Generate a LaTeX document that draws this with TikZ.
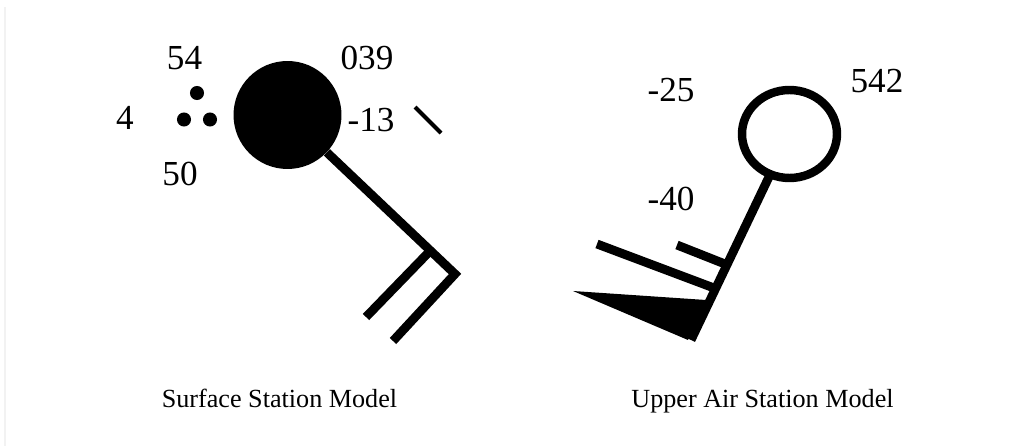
\documentclass[tikz,border=0pt]{standalone}
\usepackage{fontspec}
\setmainfont{Liberation Serif}
\usetikzlibrary{shapes.geometric}
\tikzset{
  num/.style={font=\fontsize{25}{28}\selectfont,inner sep=0pt},
  caption/.style={font=\fontsize{18.6}{21}\selectfont,inner sep=0pt,anchor=base},
  raindot/.style={circle,fill=black,inner sep=0pt,minimum size=10pt},
  barb/.style={line width=6.3pt},
}
\begin{document}
\begin{tikzpicture}[x=0.025cm,y=-0.025cm]
  \useasboundingbox (0,0) rectangle (1009,446);
  % 页边淡线
  \draw[black!5,line width=1.5pt] (5,7) -- (5,446);
  % 地面站
  \node[circle,fill=black,inner sep=0pt,minimum size=108*0.711pt] (sfcstn) at (287.5,115) {};
  \node[raindot] (rain1) at (197,93) {};
  \node[raindot] (rain2) at (184,119.5) {};
  \node[raindot] (rain3) at (210,119.5) {};
  \node[num] (dew) at (184.5,58) {54};
  \node[num] (vis) at (125,118) {4};
  \node[num] (low) at (180,174) {50};
  \node[num] (press) at (367,58) {039};
  \node[num] (tend) at (371,120) {-13};
  \coordinate (tick1) at (415,107);
  \coordinate (tick2) at (441,133);
  \draw[line width=3pt] (tick1) -- (tick2);
  % 风羽
  \coordinate (sfcend) at (455,274);
  \coordinate (sfcroot) at (430,251);
  \coordinate (sfctip1) at (366,317);
  \coordinate (sfctip2) at (393,341);
  \draw[barb,miter limit=10] (sfcstn) -- (sfcend) -- (sfctip2);
  \draw[barb] (sfcroot) -- (sfctip1);
  \node[caption] (sfccap) at (279.5,407) {Surface Station Model};
  % 高空站
  \node[ellipse,draw=black,line width=6pt,inner sep=0pt,outer sep=0pt,minimum width=95*0.711pt,minimum height=88*0.711pt] (airstn) at (789.5,134) {};
  \node[num] (temp) at (671,90) {-25};
  \node[num] (dewair) at (671,199) {-40};
  \node[num] (height) at (877,81) {542};
  \coordinate (airend) at (691,340);
  \coordinate (airroot1) at (725,264);
  \coordinate (airroot2) at (714,288);
  \coordinate (airtip1) at (677,245);
  \coordinate (airtip2) at (597,244);
  \coordinate (penn1) at (573,291);
  \coordinate (penn2) at (706,300);
  \coordinate (penn3) at (688,340);
  \draw[barb] (airstn) -- (airend);
  \draw[barb] (airroot1) -- (airtip1);
  \draw[barb] (airroot2) -- (airtip2);
  \fill (penn1) -- (penn2) -- (penn3) -- cycle;
  \node[caption] (aircap) at (762.5,407) {Upper Air Station Model};
\end{tikzpicture}
\end{document}
